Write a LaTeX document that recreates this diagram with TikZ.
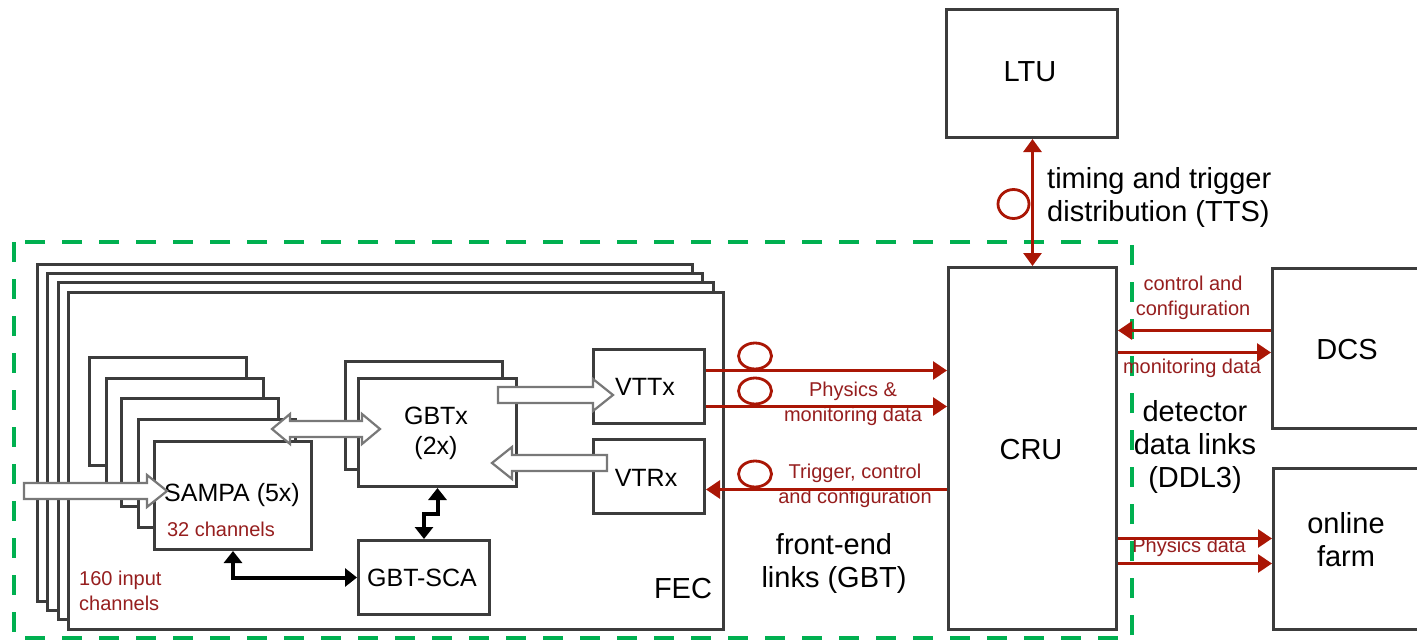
\documentclass[tikz,border=0pt]{standalone}
\usepackage{fontspec}
\setmainfont{Liberation Sans}
\usetikzlibrary{arrows.meta,calc}
\definecolor{darkred}{RGB}{170,22,5}
\definecolor{txtred}{RGB}{150,30,30}
\definecolor{dgreen}{RGB}{0,176,80}
\definecolor{boxgray}{RGB}{60,60,60}
\definecolor{arrgray}{RGB}{120,120,120}
\newcommand{\bx}[5]{\node[box, minimum width={(#4-#2)*1pt}, minimum height={(#5-#3)*1pt}] (#1) at (#2,#3) {};}
% single block arrow: #1 start coord, #2 tip coord, #3 direction (1 right, -1 left)
\newcommand{\hblock}[3]{%
  \draw[blockstyle] let \p1=(#1), \p2=(#2) in
  (\x1,\y1+8pt) -- (\x2-#3*20pt,\y1+8pt) -- (\x2-#3*20pt,\y1+16pt) -- (\x2,\y1)
  -- (\x2-#3*20pt,\y1-16pt) -- (\x2-#3*20pt,\y1-8pt) -- (\x1,\y1-8pt) -- cycle;}
% double block arrow: #1 left tip, #2 right tip
\newcommand{\dblock}[2]{%
  \draw[blockstyle] let \p1=(#1), \p2=(#2) in
  (\x1,\y1) -- (\x1+18pt,\y1+15pt) -- (\x1+18pt,\y1+8pt) -- (\x2-18pt,\y1+8pt)
  -- (\x2-18pt,\y1+15pt) -- (\x2,\y1) -- (\x2-18pt,\y1-15pt) -- (\x2-18pt,\y1-8pt)
  -- (\x1+18pt,\y1-8pt) -- (\x1+18pt,\y1-15pt) -- cycle;}
\begin{document}
\begin{tikzpicture}[x=1pt,y=-1pt,
  box/.style={draw=boxgray, line width=3pt, fill=white, rectangle, inner sep=0pt, anchor=north west},
  blockstyle/.style={draw=arrgray, line width=2.2pt, fill=white, line join=miter},
  redarr/.style={draw=darkred, line width=2.8pt, -{Triangle[length=14pt,width=18pt]}},
  redarrd/.style={draw=darkred, line width=2.8pt, {Triangle[length=13pt,width=18pt]}-{Triangle[length=13pt,width=18pt]}},
  blkarr/.style={draw=black, line width=4pt, {Triangle[length=12pt,width=18pt]}-{Triangle[length=12pt,width=18pt]}},
  ring/.style={draw=darkred, line width=2.8pt},
  big/.style={font=\fontsize{29}{33}\selectfont, align=center, inner sep=0pt},
  mid/.style={font=\fontsize{25}{30}\selectfont, align=center, inner sep=0pt},
  small/.style={font=\fontsize{20}{25}\selectfont, text=txtred, align=center, inner sep=0pt},
  grn/.style={draw=dgreen, line width=4pt, dash pattern=on 20pt off 17pt}]
\useasboundingbox (0,0) rectangle (1417,642);
\fill[white] (0,0) rectangle (1417,642);

% right-hand boxes
\bx{ltu}{945}{8}{1116}{136}
\bx{cru}{947}{266}{1115}{628}
\bx{dcs}{1271}{267}{1440}{427}
\bx{farm}{1272}{467}{1440}{628}

% FEC stack
\bx{fecA}{36}{263}{691}{600}
\bx{fecB}{46}{272}{701}{609}
\bx{fecC}{57}{281}{712}{618}
\bx{fec}{67}{291}{722}{628}

% SAMPA stack
\bx{sA}{88}{356}{245}{464}
\bx{sB}{105}{377}{262}{485}
\bx{sC}{120}{397}{277}{505}
\bx{sD}{137}{418}{294}{526}
\bx{sampa}{153}{440}{310}{548}

% GBTx stack
\bx{gA}{344}{360}{501}{468}
\bx{gbtx}{357}{377}{515}{485}

\bx{vttx}{592}{348}{703}{422}
\bx{vtrx}{592}{438}{703}{512}
\bx{sca}{357}{539}{488}{613}

% green dashed frame
\draw[grn] (14,242) rectangle (1132,638);

% texts
\node[big] (tltu) at (1030,72) {LTU};
\node[big] (tcru) at (1031,450) {CRU};
\node[big] (tdcs) at (1347,350) {DCS};
\node[big] (tfarm) at (1346,540) {online\\farm};
\node[mid] (tsampa) at (232,495) {SAMPA (5x)};
\node[small] (t32) at (221,529) {32 channels};
\node[small, align=left, anchor=west] (t160) at (79,591) {160 input\\channels};
\node[mid] (tgbtx) at (436,433) {GBTx\\(2x)};
\node[mid] (tvttx) at (645,387) {VTTx};
\node[mid] (tvtrx) at (646,478) {VTRx};
\node[mid] (tsca) at (422,578) {GBT-SCA};
\node[big] (tfec) at (683,589) {FEC};
\node[small] (tphys) at (853,404) {Physics \&\\monitoring data};
\node[small] (ttrig) at (855,486) {Trigger, control\\and configuration};
\node[big] (tfe) at (834,563) {front-end\\links (GBT)};
\node[big, align=left, anchor=west] (ttts) at (1047,197) {timing and trigger\\distribution (TTS)};
\node[small] (tcc) at (1193,298) {control and\\configuration};
\node[small] (tmon) at (1192,368) {monitoring data};
\node[big] (tddl) at (1195,447) {detector\\data links\\(DDL3)};
\node[small] (tpd) at (1189,547) {Physics data};

% block arrows (connector ends as named coordinates)
\coordinate (inS) at (24,491);
\coordinate (inT) at (167,491);
\coordinate (sgL) at (272,429);
\coordinate (sgR) at (380,429);
\coordinate (gvS) at (498,395);
\coordinate (gvT) at (613,395);
\coordinate (vgS) at (607,463);
\coordinate (vgT) at (492,463);
\hblock{inS}{inT}{1}
\dblock{sgL}{sgR}
\hblock{gvS}{gvT}{1}
\hblock{vgS}{vgT}{-1}

% black control links
\draw[blkarr] (sampa.south) |- (sca.west);
\draw[blkarr] (gbtx.south) -- ++(0,26) -| (sca.north);

% rings
\draw[ring] (755,356) ellipse [x radius=16.5, y radius=13];
\draw[ring] (755,391) ellipse [x radius=16.5, y radius=13];
\draw[ring] (755,474) ellipse [x radius=16.5, y radius=13];
\draw[ring] (1013.5,204) ellipse [x radius=15.5, y radius=14.5];

% red links
\draw[redarrd] (ltu.south -| cru.north) -- (cru.north);
\draw[redarr] ([yshift=16pt]vttx.east) -- ([yshift=16pt]vttx.east -| cru.west);
\draw[redarr] ([yshift=-20pt]vttx.east) -- ([yshift=-20pt]vttx.east -| cru.west);
\draw[redarr] ([yshift=-13pt]vtrx.east -| cru.west) -- ([yshift=-13pt]vtrx.east);
\draw[redarr] ([yshift=18pt]dcs.west) -- ([yshift=18pt]dcs.west -| cru.east);
\draw[redarr] ([yshift=-4pt]dcs.west -| cru.east) -- ([yshift=-4pt]dcs.west);
\draw[redarr] ([yshift=10.5pt]farm.west -| cru.east) -- ([yshift=10.5pt]farm.west);
\draw[redarr] ([yshift=-14.5pt]farm.west -| cru.east) -- ([yshift=-14.5pt]farm.west);
\end{tikzpicture}
\end{document}
